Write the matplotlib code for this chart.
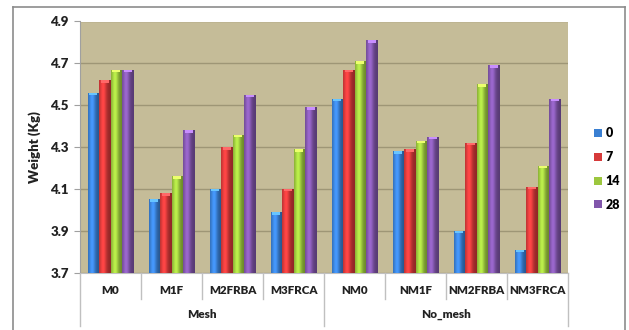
import numpy as np
import matplotlib
matplotlib.use("Agg")
import matplotlib.pyplot as plt
from matplotlib.colors import to_rgb
from matplotlib.lines import Line2D
from matplotlib.patches import Rectangle

# ---- data ----
categories = ["M0", "M1F", "M2FRBA", "M3FRCA", "NM0", "NM1F", "NM2FRBA", "NM3FRCA"]
groups = ["Mesh", "No_mesh"]
series_names = ["0", "7", "14", "28"]
day0 = [4.56, 4.05, 4.10, 3.99, 4.53, 4.28, 3.90, 3.81]
day7 = [4.62, 4.08, 4.30, 4.10, 4.67, 4.29, 4.32, 4.11]
day14 = [4.67, 4.16, 4.36, 4.29, 4.71, 4.33, 4.60, 4.21]
day28 = [4.67, 4.38, 4.55, 4.49, 4.81, 4.35, 4.69, 4.53]
yticks = [3.7, 3.9, 4.1, 4.3, 4.5, 4.7, 4.9]

series = [day0, day7, day14, day28]
colors = ["#3a7fd2", "#d63a3a", "#9cc73e", "#8156ab"]

plt.rcParams["font.family"] = ["Lato", "DejaVu Sans"]
FW = "heavy"
plt.rcParams["font.weight"] = FW

fig = plt.figure(figsize=(6.29, 3.30), dpi=100)
W, H = 629, 330

def fx(px):
    return px / W

def fy(py):
    return 1 - py / H

ax = fig.add_axes([fx(80), fy(272.7), fx(568) - fx(80), fy(21.5) - fy(272.7)])
ax.set_facecolor("#c5bc98")
ax.set_xlim(-0.5, len(categories) - 0.5)
ax.set_ylim(3.7, 4.9)

x = np.arange(len(categories))
bw = 0.187
offsets = (np.arange(4) - 1.5) * bw

# horizontal shading profile across a bar (cylinder look)
prof_x = np.linspace(0, 1, 40)
prof = 0.80 + 0.45 * np.exp(-((prof_x - 0.35) / 0.28) ** 2) - 0.12 * prof_x

for vals, off, col, name in zip(series, offsets, colors, series_names):
    bars = ax.bar(x + off, np.array(vals) - 3.7, bw, bottom=3.7, color=col,
                  edgecolor="none", label=name, zorder=3)
    base = np.array(to_rgb(col))
    grad = np.clip(base[None, :] * prof[:, None], 0, 1)[None, :, :]
    for b in bars:
        x0, y0 = b.get_x(), b.get_y()
        w, h = b.get_width(), b.get_height()
        im = ax.imshow(grad, extent=[x0, x0 + w, y0, y0 + h], aspect="auto",
                       interpolation="bilinear", zorder=3.5)
        im.set_clip_path(b)
        # small lighter cap at the top of each bar
        cap = np.clip(base * 1.35 + 0.1, 0, 1)
        ax.add_patch(Rectangle((x0 + w * 0.15, y0 + h - 0.012), w * 0.7, 0.012,
                               facecolor=cap, edgecolor="none", zorder=4))

ax.set_yticks(yticks)
ax.set_yticklabels([f"{t:.1f}" for t in yticks], fontsize=9.5, fontweight=FW,
                   color="#222222")
ax.yaxis.grid(True, color="#9e9676", linewidth=1.0, zorder=1)
ax.set_axisbelow(True)
ax.tick_params(axis="y", length=4, color="#a0a0a0", pad=4)
ax.set_xticks([])
for s in ["top", "right"]:
    ax.spines[s].set_visible(False)
ax.spines["left"].set_color("#a0a0a0")
ax.spines["bottom"].set_color("#c0c0c0")
ax.set_ylabel("Weight (Kg)", fontsize=9.5, fontweight=FW, labelpad=7, color="#222222")

# two-level category axis below the plot
trans = ax.get_xaxis_transform()
span = 272.7 - 21.5
cat_sep_low = -(299 - 272.7) / span
grp_sep_low = -(326 - 272.7) / span
lab_y = -(290 - 272.7) / span
grp_y = -(314 - 272.7) / span
for i in range(len(categories) + 1):
    xb = i - 0.5
    low = grp_sep_low if i in (0, 4, 8) else cat_sep_low
    ax.add_line(Line2D([xb, xb], [0.0, low], transform=trans,
                       color="#c0c0c0", linewidth=1.0, clip_on=False))
for i, c in enumerate(categories):
    ax.text(i, lab_y, c, transform=trans, ha="center", va="center",
            fontsize=8.3, fontweight=FW, color="#222222")
for gi, g in enumerate(groups):
    ax.text(gi * 4 + 1.5, grp_y, g, transform=trans, ha="center", va="center",
            fontsize=8.5, fontweight=FW, color="#222222")

# legend
fig.legend(loc="center left", bbox_to_anchor=(fx(583), fy(169)), frameon=False,
           handlelength=0.6, handleheight=0.6, handletextpad=0.3,
           labelspacing=0.95, prop={"weight": FW, "size": 9})

# outer chart frame
fig.add_artist(Line2D([fx(12.7), fx(12.7)], [fy(6.7), 0], color="#8c8c8c", linewidth=1.2))
fig.add_artist(Line2D([fx(12.7), fx(625)], [fy(6.7), fy(6.7)], color="#8c8c8c", linewidth=1.2))
fig.add_artist(Line2D([fx(625), fx(625)], [fy(6.7), 0], color="#8c8c8c", linewidth=1.2))

fig.savefig("out.png", dpi=100)
